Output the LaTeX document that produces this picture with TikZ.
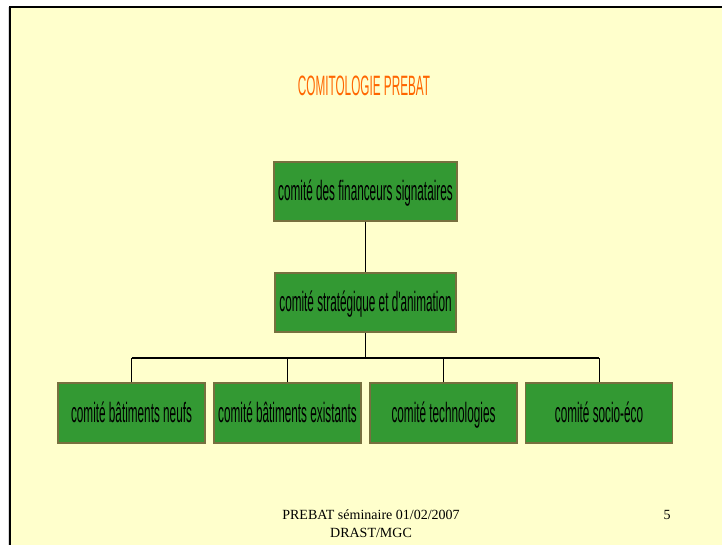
\documentclass[tikz,border=0pt]{standalone}
\usepackage{fontspec}
\setmainfont{Liberation Serif}
\newfontfamily\narrowfont[FakeStretch=0.42]{Liberation Sans}
\usepackage{xcolor}
\usetikzlibrary{calc}

\definecolor{slidebg}{HTML}{FFFFCC}
\definecolor{boxgreen}{HTML}{339933}
\definecolor{boxedge}{HTML}{77703F}
\definecolor{titleorange}{HTML}{FF6600}

\tikzset{
  comite/.style={draw=boxedge, line width=1.5pt, fill=boxgreen,
    minimum height=59pt, inner sep=0pt, text height=22pt, text depth=4pt,
    font=\narrowfont\fontsize{28}{32}\selectfont},
  foot/.style={font=\fontsize{14}{18}\selectfont, inner sep=0pt}
}

\begin{document}
\begin{tikzpicture}[x=1pt,y=-1pt]
        \useasboundingbox (0,0) rectangle (722,545);
        \fill[white] (0,0) rectangle (722,545);
        \fill[slidebg] (10,7) rectangle (722,545);
        \draw[line width=2.5pt] (10,545) -- (10,7) -- (722,7);
        \draw[gray!30] (8,545) -- (8,7);

        \node[text=titleorange, inner sep=0pt, anchor=base,
        font=\narrowfont\fontsize{28}{32}\selectfont]
        (title) at (364,96) {COMITOLOGIE PREBAT};

        \node[comite, minimum width=183pt] (financeurs) at (365.5,191.5)
        {comité des financeurs signataires};
        \node[comite, minimum width=181pt] (strat) at (365.5,302.5)
        {comité stratégique et d'animation};

        \node[comite, minimum width=147pt, minimum height=60pt] (neufs) at
        (131.5,413) {comité bâtiments neufs};
        \node[comite, minimum width=147pt, minimum height=60pt] (existants) at
        (287.5,413) {comité bâtiments existants};
        \node[comite, minimum width=147pt, minimum height=60pt] (techno) at
        (443.5,413) {comité technologies};
        \node[comite, minimum width=147pt, minimum height=60pt] (socio) at
        (599,413) {comité socio-éco};

        \coordinate (bus) at (365.5,357.5);

        \draw (financeurs) -- (strat);
        \draw (strat) -- (bus);
        \draw[line width=2pt] (neufs.north |- bus) -- (socio.north |- bus);
        \draw (neufs) -- (neufs.north |- bus); \draw (existants) --
        (existants.north |- bus); \draw (techno) -- (techno.north |- bus);
        \draw (socio) -- (socio.north |- bus);

        \node[foot, anchor=base] (seminaire) at (371,519) {PREBAT séminaire
        01/02/2007}; \node[foot, anchor=base] (drast) at (371,537)
        {DRAST/MGC}; \node[foot, anchor=base] (page) at (667,519) {5};
\end{tikzpicture}
\end{document}
